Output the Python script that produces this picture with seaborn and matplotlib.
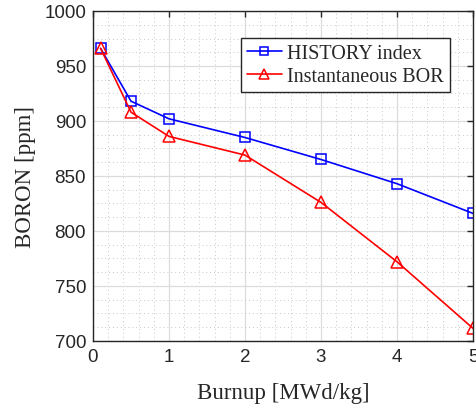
import matplotlib
matplotlib.use("Agg")
import matplotlib.pyplot as plt
from matplotlib.ticker import MultipleLocator
import seaborn as sns
import pandas as pd

burnup = [0.1, 0.5, 1, 2, 3, 4, 5]
history_index = [966, 918, 902, 885, 865, 843, 816]
instantaneous_bor = [966, 908, 886, 869, 826, 772, 711.5]
series_names = ["HISTORY index", "Instantaneous BOR"]

sns.set_style("white")
plt.rcParams['font.family'] = ['Liberation Sans', 'DejaVu Sans']

fig = plt.figure(figsize=(4.77, 4.10), dpi=100)
ax = fig.add_axes([93/477, 68/410, 380/477, 330/410])

sns.lineplot(x=burnup, y=history_index, ax=ax, color='#0000ff', lw=1.2,
             marker='s', markersize=7, markerfacecolor='none',
             markeredgecolor='#0000ff', markeredgewidth=1.1, label=series_names[0])
sns.lineplot(x=burnup, y=instantaneous_bor, ax=ax, color='#ff0000', lw=1.2,
             marker='^', markersize=9, markerfacecolor='none',
             markeredgecolor='#ff0000', markeredgewidth=1.1, label=series_names[1])

ax.set_xlim(0, 5)
ax.set_ylim(700, 1000)
ax.xaxis.set_major_locator(MultipleLocator(1))
ax.yaxis.set_major_locator(MultipleLocator(50))
ax.xaxis.set_minor_locator(MultipleLocator(0.2))
ax.yaxis.set_minor_locator(MultipleLocator(12.5))

ax.grid(True, which='major', color='#dcdcdc', lw=0.9, ls='-')
ax.grid(True, which='minor', color='#c8c8c8', lw=0.7, ls=(0, (1, 3)))
ax.set_axisbelow(True)

ax.tick_params(which='major', direction='in', length=4, width=1, top=True, right=True,
               labelsize=13.5, colors='#262626', pad=5)
ax.tick_params(which='minor', length=0)
for s in ax.spines.values():
    s.set_color('#262626')
    s.set_linewidth(1.0)

serif = ['Liberation Serif', 'DejaVu Serif']
ax.set_xlabel('Burnup [MWd/kg]', fontsize=16.5, family=serif, color='#262626', labelpad=12)
ax.set_ylabel('BORON [ppm]', fontsize=16.5, family=serif, color='#262626', labelpad=6)

leg = ax.legend(loc='upper right', bbox_to_anchor=(0.939, 0.918), borderaxespad=0,
                prop={'family': serif, 'size': 14.5}, frameon=True, fancybox=False,
                handlelength=1.75, handletextpad=0.25, borderpad=0.3, labelspacing=0.2,
                markerscale=0.85)
leg.get_frame().set_edgecolor('#262626')
leg.get_frame().set_linewidth(1.0)
leg.get_frame().set_alpha(1)

fig.savefig('out.png', dpi=100)
